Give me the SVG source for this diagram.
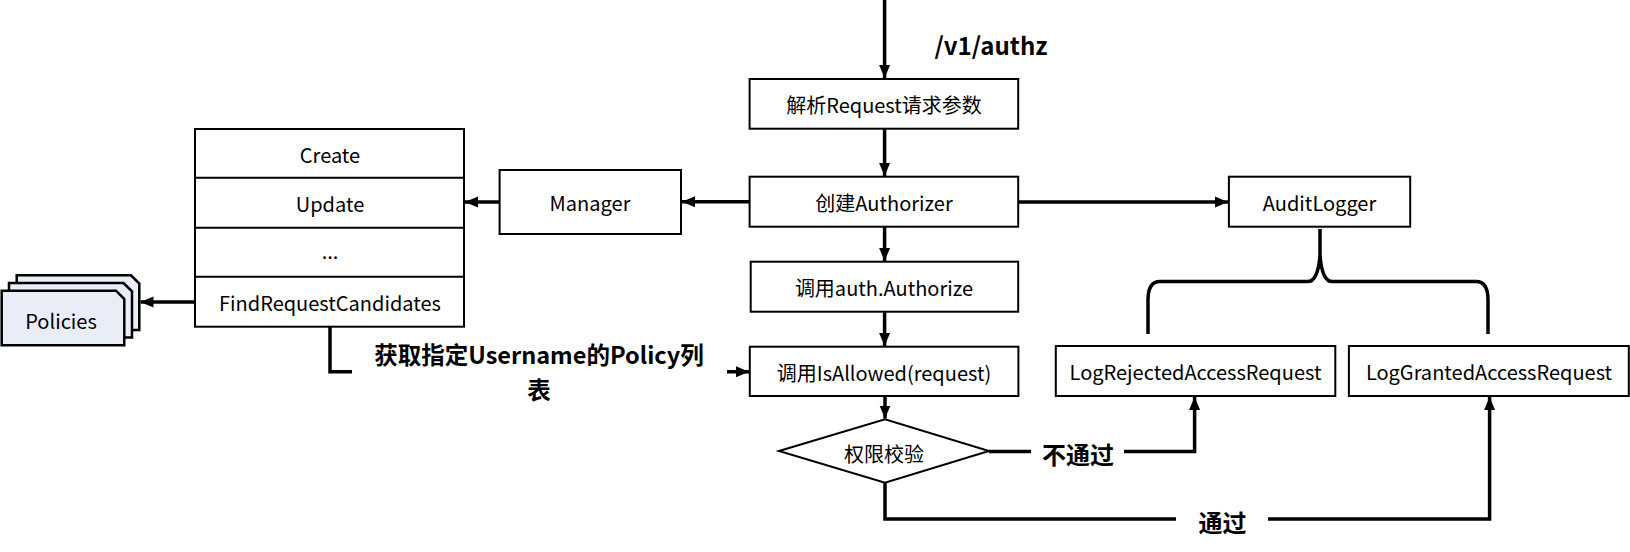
<svg xmlns="http://www.w3.org/2000/svg" width="1630" height="552" viewBox="0 0 1630 552">
<style>
.box{fill:#fff;stroke:#000;stroke-width:2}
.t{font-family:"Noto Sans CJK SC","Noto Sans",sans-serif;font-size:20px;fill:#000;text-anchor:middle;dominant-baseline:central}
.b{font-family:"Noto Sans CJK SC","Noto Sans",sans-serif;font-size:24px;font-weight:bold;fill:#000;text-anchor:middle;dominant-baseline:central}
.c{fill:none;stroke:#000;stroke-width:3.5}
.card{fill:#e8edf8;stroke:#000;stroke-width:2.5}
</style>
<defs>
<marker id="ah" markerUnits="userSpaceOnUse" markerWidth="14" markerHeight="14" viewBox="0 0 14 14" refX="13" refY="7" orient="auto">
<path d="M0,1.5 L13,7 L0,12.5 Z" fill="#000"/>
</marker>
</defs>
<rect width="1630" height="552" fill="#fff"/>

<g id="connectors">
<path class="c" d="M884.6,0 V78" marker-end="url(#ah)"/>
<path class="c" d="M884.6,129 V176" marker-end="url(#ah)"/>
<path class="c" d="M749.6,201.7 H682" marker-end="url(#ah)"/>
<path class="c" d="M499.6,202 H465" marker-end="url(#ah)"/>
<path class="c" d="M1018.2,202 H1228" marker-end="url(#ah)"/>
<path class="c" d="M884.6,227 V261" marker-end="url(#ah)"/>
<path class="c" d="M884.6,312 V346" marker-end="url(#ah)"/>
<path class="c" d="M195,302 H140.5" marker-end="url(#ah)"/>
<path class="c" d="M330,327 V371.7 H749" marker-end="url(#ah)"/>
<path class="c" d="M885,396 V418.5" marker-end="url(#ah)"/>
<path class="c" d="M989,451.5 H1194.6 V397" marker-end="url(#ah)"/>
<path class="c" d="M885,483 V519 H1489.6 V397" marker-end="url(#ah)"/>
<path class="c" d="M1148,334 V300 Q1148,281.5 1160,281.5 H1308 Q1318,281.5 1320,255 V229 M1320,255 Q1322,281.5 1332,281.5 H1476 Q1488,281.5 1488,300 V334"/>
<rect x="352" y="338" width="375" height="68" fill="#fff"/>
<text class="b" x="539" y="355" style="font-size:23.5px"><tspan x="539" y="354">获取指定Username的Policy列</tspan><tspan x="539" y="389">表</tspan></text>
<rect x="1031" y="436" width="93" height="34" fill="#fff"/>
<text class="b" x="1078" y="453">不通过</text>
<rect x="1176" y="505" width="92" height="34" fill="#fff"/>
<text class="b" x="1222.5" y="521">通过</text>
<text class="b" x="991" y="44">/v1/authz</text>
</g>

<g id="node-parse">
<rect class="box" x="749.6" y="79" width="268.6" height="49.7"/>
<text class="t" x="884" y="104">解析Request请求参数</text>
</g>
<g id="node-create">
<rect class="box" x="749.6" y="176.7" width="268.6" height="50"/>
<text class="t" x="884" y="202">创建Authorizer</text>
</g>
<g id="node-authorize">
<rect class="box" x="750.7" y="261.7" width="267.5" height="50"/>
<text class="t" x="884" y="287">调用auth.Authorize</text>
</g>
<g id="node-isallowed">
<rect class="box" x="749.8" y="346.7" width="268.6" height="49.3"/>
<text class="t" x="884" y="372">调用IsAllowed(request)</text>
</g>
<g id="node-check">
<path class="box" d="M779,451 L885,419.3 L989,451 L885,482.7 Z"/>
<text class="t" x="884" y="453">权限校验</text>
</g>
<g id="node-manager">
<rect class="box" x="499.6" y="170" width="181.4" height="64"/>
<text class="t" x="590" y="202">Manager</text>
</g>
<g id="node-table">
<rect class="box" x="195" y="129" width="269" height="197.7"/>
<path fill="none" stroke="#000" stroke-width="2" d="M195,177.7 H464 M195,227.7 H464 M195,276.7 H464"/>
<text class="t" x="330" y="154">Create</text>
<text class="t" x="330" y="203">Update</text>
<text class="t" x="330" y="250">...</text>
<text class="t" x="330" y="302">FindRequestCandidates</text>
</g>
<g id="node-policies">
<path class="card" d="M16.7,275.3 H131 L139.3,283.6 V330 H16.7 Z"/>
<path class="card" d="M9,283 H123.5 L132,291.3 V337.5 H9 Z"/>
<path class="card" d="M1.7,290.7 H116 L124.3,299 V345.3 H1.7 Z"/>
<text class="t" x="61" y="320">Policies</text>
</g>
<g id="node-auditlogger">
<rect class="box" x="1228.9" y="176.7" width="181.3" height="50"/>
<text class="t" x="1319.5" y="202">AuditLogger</text>
</g>
<g id="node-rejected">
<rect class="box" x="1055.8" y="346" width="279.5" height="50"/>
<text class="t" x="1195.5" y="371">LogRejectedAccessRequest</text>
</g>
<g id="node-granted">
<rect class="box" x="1348.9" y="346" width="279.9" height="50"/>
<text class="t" x="1489" y="371">LogGrantedAccessRequest</text>
</g>
</svg>
